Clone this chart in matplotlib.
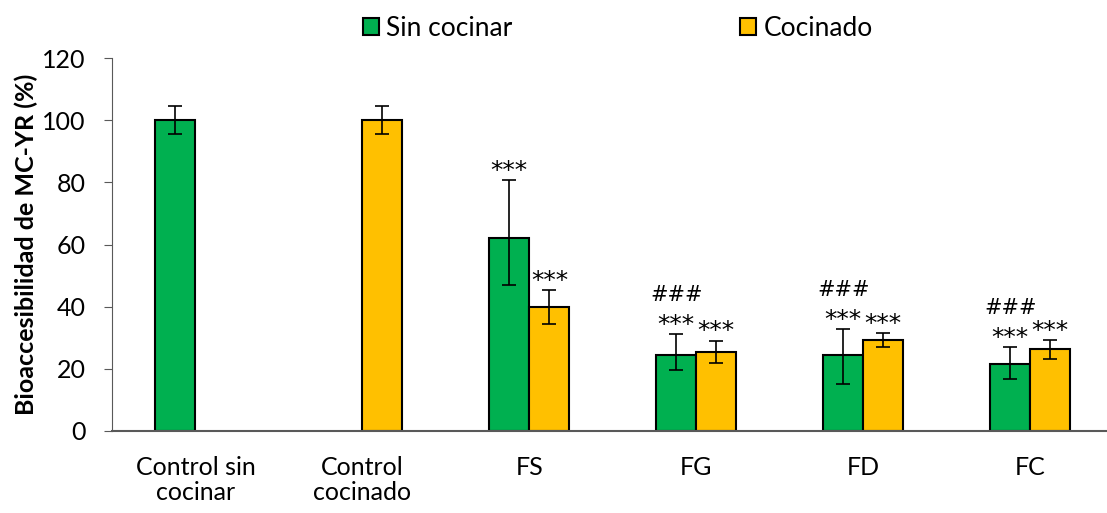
import matplotlib.pyplot as plt
import numpy as np

plt.rcParams['font.family'] = ['Lato', 'DejaVu Sans']

categories = ["Control sin\ncocinar", "Control\ncocinado", "FS", "FG", "FD", "FC"]
series_names = ["Sin cocinar", "Cocinado"]

# nan = no bar in that group
sin_vals = [100.0, np.nan, 62.1, 24.5, 24.5, 21.6]
sin_err_up = [4.7, np.nan, 18.7, 6.7, 8.3, 5.3]
sin_err_down = [4.5, np.nan, 15.0, 4.9, 9.5, 4.9]

coc_vals = [np.nan, 100.0, 39.9, 25.5, 29.3, 26.3]
coc_err_up = [np.nan, 4.7, 5.5, 3.6, 2.3, 3.0]
coc_err_down = [np.nan, 4.5, 5.5, 3.7, 2.3, 3.0]

sin_marks = ["", "", "***", "###\n***", "###\n***", "###\n***"]
coc_marks = ["", "", "***", "***", "***", "***"]

green = "#00b050"
yellow = "#ffc000"

fig = plt.figure(figsize=(11.07, 5.13), dpi=100)
ax = fig.add_axes([112 / 1107, 82 / 513, 995 / 1107, 373 / 513])

x = np.arange(len(categories))
w = 0.24

def draw(vals, up, down, offset, color, label, marks):
    vals = np.array(vals)
    ax.bar(x + offset, vals, w, color=color, edgecolor="black", linewidth=1.5, label=label, zorder=2)
    ax.errorbar(x + offset, vals, yerr=[down, up], fmt="none", ecolor="black",
                elinewidth=1.2, capsize=5, capthick=1.2, zorder=3)
    for i, m in enumerate(marks):
        if not m:
            continue
        top = vals[i] + up[i]
        parts = m.split("\n")
        ax.annotate(parts[-1], (x[i] + offset, top), xytext=(0, -2), textcoords="offset points",
                    ha="center", va="bottom", fontsize=18, family="DejaVu Sans")
        if len(parts) > 1:
            ax.annotate(parts[0], (x[i] + offset, top), xytext=(0, 21), textcoords="offset points",
                        ha="center", va="bottom", fontsize=15, family="DejaVu Sans")

draw(sin_vals, sin_err_up, sin_err_down, -w / 2, green, series_names[0], sin_marks)
draw(coc_vals, coc_err_up, coc_err_down, w / 2, yellow, series_names[1], coc_marks)

ax.set_xlim(-0.5, 5.46)
ax.set_ylim(0, 120)
ax.set_yticks(range(0, 121, 20))
ax.set_xticks(x)
ax.set_xticklabels(categories, fontsize=18, linespacing=1.1)
ax.tick_params(axis="x", length=0, pad=18)
ax.tick_params(axis="y", labelsize=18, length=6, color="#595959", pad=13)
ax.set_ylabel("Bioaccesibilidad de MC-YR (%)", fontsize=18, fontweight="bold", labelpad=3)

for s in ["top", "right"]:
    ax.spines[s].set_visible(False)
ax.spines["left"].set_color("#595959")
ax.spines["bottom"].set_color("#595959")
ax.spines["bottom"].set_linewidth(1.5)

fig.legend(loc="upper center", bbox_to_anchor=(0.558, 1.015), ncol=2, frameon=False,
           fontsize=19, handlelength=0.6, handleheight=0.6, handletextpad=0.3, columnspacing=8.6)

fig.savefig("out.png", dpi=100)
